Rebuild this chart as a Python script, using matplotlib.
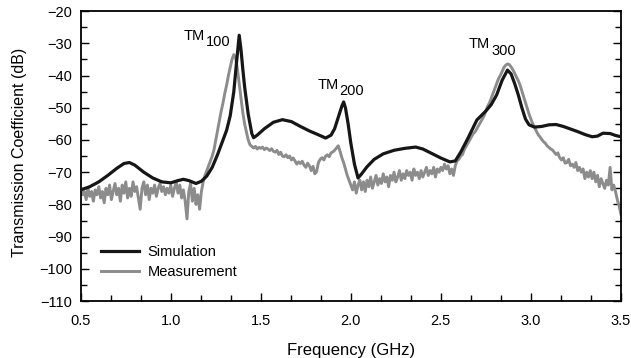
import numpy as np
import matplotlib.pyplot as plt
from matplotlib.ticker import MultipleLocator

plt.rcParams['font.family'] = ['Liberation Sans', 'DejaVu Sans']

# simulation (smooth), frequency in GHz, transmission in dB
sim_f = [0.50, 0.55, 0.60, 0.65, 0.70, 0.74, 0.77, 0.80, 0.85, 0.90, 0.95, 1.00, 1.04,
         1.07, 1.10, 1.14, 1.17, 1.20, 1.23, 1.26, 1.29, 1.31, 1.33, 1.35, 1.365, 1.38,
         1.39, 1.40, 1.41, 1.43, 1.45, 1.46, 1.48, 1.52, 1.57, 1.62, 1.67, 1.72, 1.77,
         1.82, 1.86, 1.89, 1.91, 1.93, 1.95, 1.96, 1.97, 1.985, 2.00, 2.02, 2.04, 2.06,
         2.09, 2.13, 2.18, 2.24, 2.30, 2.36, 2.40, 2.45, 2.50, 2.55, 2.58, 2.61, 2.65,
         2.70, 2.75, 2.78, 2.81, 2.84, 2.87, 2.89, 2.91, 2.93, 2.95, 2.97, 2.99, 3.02,
         3.06, 3.10, 3.14, 3.18, 3.22, 3.26, 3.30, 3.34, 3.37, 3.40, 3.44, 3.47, 3.50]
sim_db = [-75.5, -74.5, -73.0, -71.0, -68.8, -67.3, -67.0, -67.8, -70.0, -71.8, -73.0, -73.3, -72.6,
          -72.2, -72.6, -73.5, -72.8, -71.2, -68.5, -64.5, -60.0, -57.0, -52.5, -45.0, -36.0, -27.5,
          -32.0, -38.0, -43.5, -52.0, -58.0, -59.3, -58.5, -56.5, -54.5, -53.7, -54.3, -55.8, -57.2,
          -58.4, -59.4, -58.5, -56.5, -53.0, -49.5, -48.2, -50.0, -55.0, -61.0, -67.5, -71.8, -70.5,
          -68.3, -66.0, -64.3, -63.2, -62.6, -62.2, -62.8, -64.2, -65.6, -66.8, -66.5, -63.8, -59.5,
          -53.8, -51.0, -49.0, -46.0, -41.5, -38.3, -39.5, -42.5, -46.0, -50.0, -53.5, -55.3, -56.0,
          -55.8, -55.3, -55.2, -55.8, -56.6, -57.4, -58.3, -59.0, -58.8, -57.9, -58.0, -58.6, -59.0]

# measurement, sampled every 0.01 GHz from 0.50 to 3.50
meas_f = np.round(np.arange(0.50, 3.5001, 0.01), 2)
meas_db = [
    -75.5, -77, -76, -78.5, -75, -77.5, -76, -79, -75.5, -77,
    -74.5, -78, -76, -79.5, -75, -77, -74, -78.5, -76, -73.5,
    -77, -75, -79, -74, -76.5, -73, -78, -75, -77.5, -73,
    -76, -74.5, -78, -81.5, -75, -73, -77, -74, -78.5, -75,
    -76.5, -74, -77.5, -75, -73.5, -76, -74.5, -77, -75, -76.5,
    -74, -77.5, -75, -73, -76.5, -74, -78, -75.5, -79, -84.5,
    -76, -73.5, -79, -75, -80, -77, -81.5, -76, -73, -71, -69.5,
    -68, -66.5, -65, -63, -60, -57, -54, -51, -48.5, -45.5,
    -43, -40, -37.5, -35, -33.5, -34.5, -38, -42.5, -47, -51.5,
    -55, -57.5, -60, -61.5,
    -62, -62.5, -62, -62.8, -62.3, -62.6, -62.2, -63, -62.5, -62.8,
    -63.3, -62.7, -63.5, -63.8, -63.2, -64.5, -63.8, -65, -65.2, -64.6,
    -65.5, -65, -66.2, -65.6, -66.5, -67.5, -66.8, -67.3, -66.6, -67.8,
    -68.5, -67.2, -68, -69.5, -68.2, -70.5, -69.8, -67, -66, -65.5,
    -66.2, -65, -64.6, -65.2, -64, -63.7, -63.2, -62.5, -61.8, -63.5,
    -65.5, -67, -69, -71, -72.5, -74, -75.5, -73, -76.5, -74,
    -72.5, -75.5, -73, -76, -72.5, -74.5, -71.5, -75, -73, -71,
    -74, -72, -73.5, -70.5, -73, -71.5, -74.5, -71, -72.5, -70,
    -73, -71.5, -69.5, -72.5, -70.5, -72, -69.5, -71, -70, -72.5,
    -69, -71, -70, -72, -69.5, -71.5, -70, -68.5, -71, -69.5,
    -70.5, -68.5, -71.5, -69, -70, -68.5, -69.5, -67.5, -69, -68,
    -70.5, -69, -71, -68, -66.5, -66, -65, -64.5, -63, -62,
    -61, -60, -59, -58, -57.5, -56.5, -55.5, -54.5, -53.5, -52.5,
    -51, -49.5, -48.5, -47, -45.5, -44, -42.5, -41, -40, -38.8,
    -37.5, -36.8, -36.4, -36.6, -37.3, -38.2, -39.3, -40.5, -41.6, -43,
    -44.8, -46.5, -48.5, -50.3, -52, -53.5, -55, -56, -57.2, -58.3,
    -59, -59.8, -60.5, -61, -61.8, -62.3, -62.8, -63.1, -63.8, -64.5,
    -64, -65.5, -66.2, -65.5, -67.2, -67, -66, -68, -67.5, -68.5,
    -67, -69.5, -68.5, -70, -69, -72, -70, -71.5, -69.5, -72,
    -70, -73, -71, -74.5, -72, -73.5, -75, -72.5, -74, -68.5,
    -75.5, -74, -76, -78.5, -80.5, -83]

# mode labels: split position (GHz), level of "TM" (dB), subscript
modes = [(1.189, -27.6, '100'), (1.932, -42.8, '200'), (2.775, -30.2, '300')]

fig = plt.figure(figsize=(6.31, 3.58), dpi=100)
ax = fig.add_axes([0.128, 0.159, 0.856, 0.810])

ax.plot(meas_f, meas_db, color='#8c8c8c', lw=2.1, label='Measurement', zorder=2)
ax.plot(sim_f, sim_db, color='#161616', lw=2.3, label='Simulation', zorder=3)

for x, y, s in modes:
    ax.text(x, y, 'TM', ha='right', va='center', fontsize=10.5)
    ax.annotate(s, (x, y), xytext=(0.5, -4.8), textcoords='offset points',
                ha='left', va='center', fontsize=10.5)

ax.set_xlim(0.5, 3.5)
ax.set_ylim(-110, -20)
ax.xaxis.set_major_locator(MultipleLocator(0.5))
ax.xaxis.set_minor_locator(MultipleLocator(1 / 6))
ax.yaxis.set_major_locator(MultipleLocator(10))
ax.yaxis.set_minor_locator(MultipleLocator(5))
ax.xaxis.set_major_formatter(plt.FuncFormatter(lambda v, p: f'{v:.1f}'))
ax.tick_params(which='both', direction='in', left=True, right=True, bottom=True, top=False,
               labelsize=10.5, width=1.0)
ax.tick_params(axis='x', pad=9)
ax.tick_params(axis='y', pad=6)
ax.tick_params(which='major', length=6)
ax.tick_params(which='minor', length=4)
for sp in ax.spines.values():
    sp.set_linewidth(1.3)

ax.set_xlabel('Frequency (GHz)', fontsize=12)
ax.set_ylabel('Transmission Coefficient (dB)', fontsize=11.5)
ax.xaxis.set_label_coords(0.5, -0.145)
ax.xaxis.label.set_va('top')
ax.yaxis.set_label_coords(-0.113, 0.514)
ax.yaxis.label.set_va('center')

h, l = ax.get_legend_handles_labels()
ax.legend(h[::-1], l[::-1], loc='lower left', bbox_to_anchor=(0.014, 0.032), frameon=False,
          fontsize=10.5, handlelength=2.6, handletextpad=0.55, labelspacing=0.4)

fig.savefig('out.png', dpi=100)
